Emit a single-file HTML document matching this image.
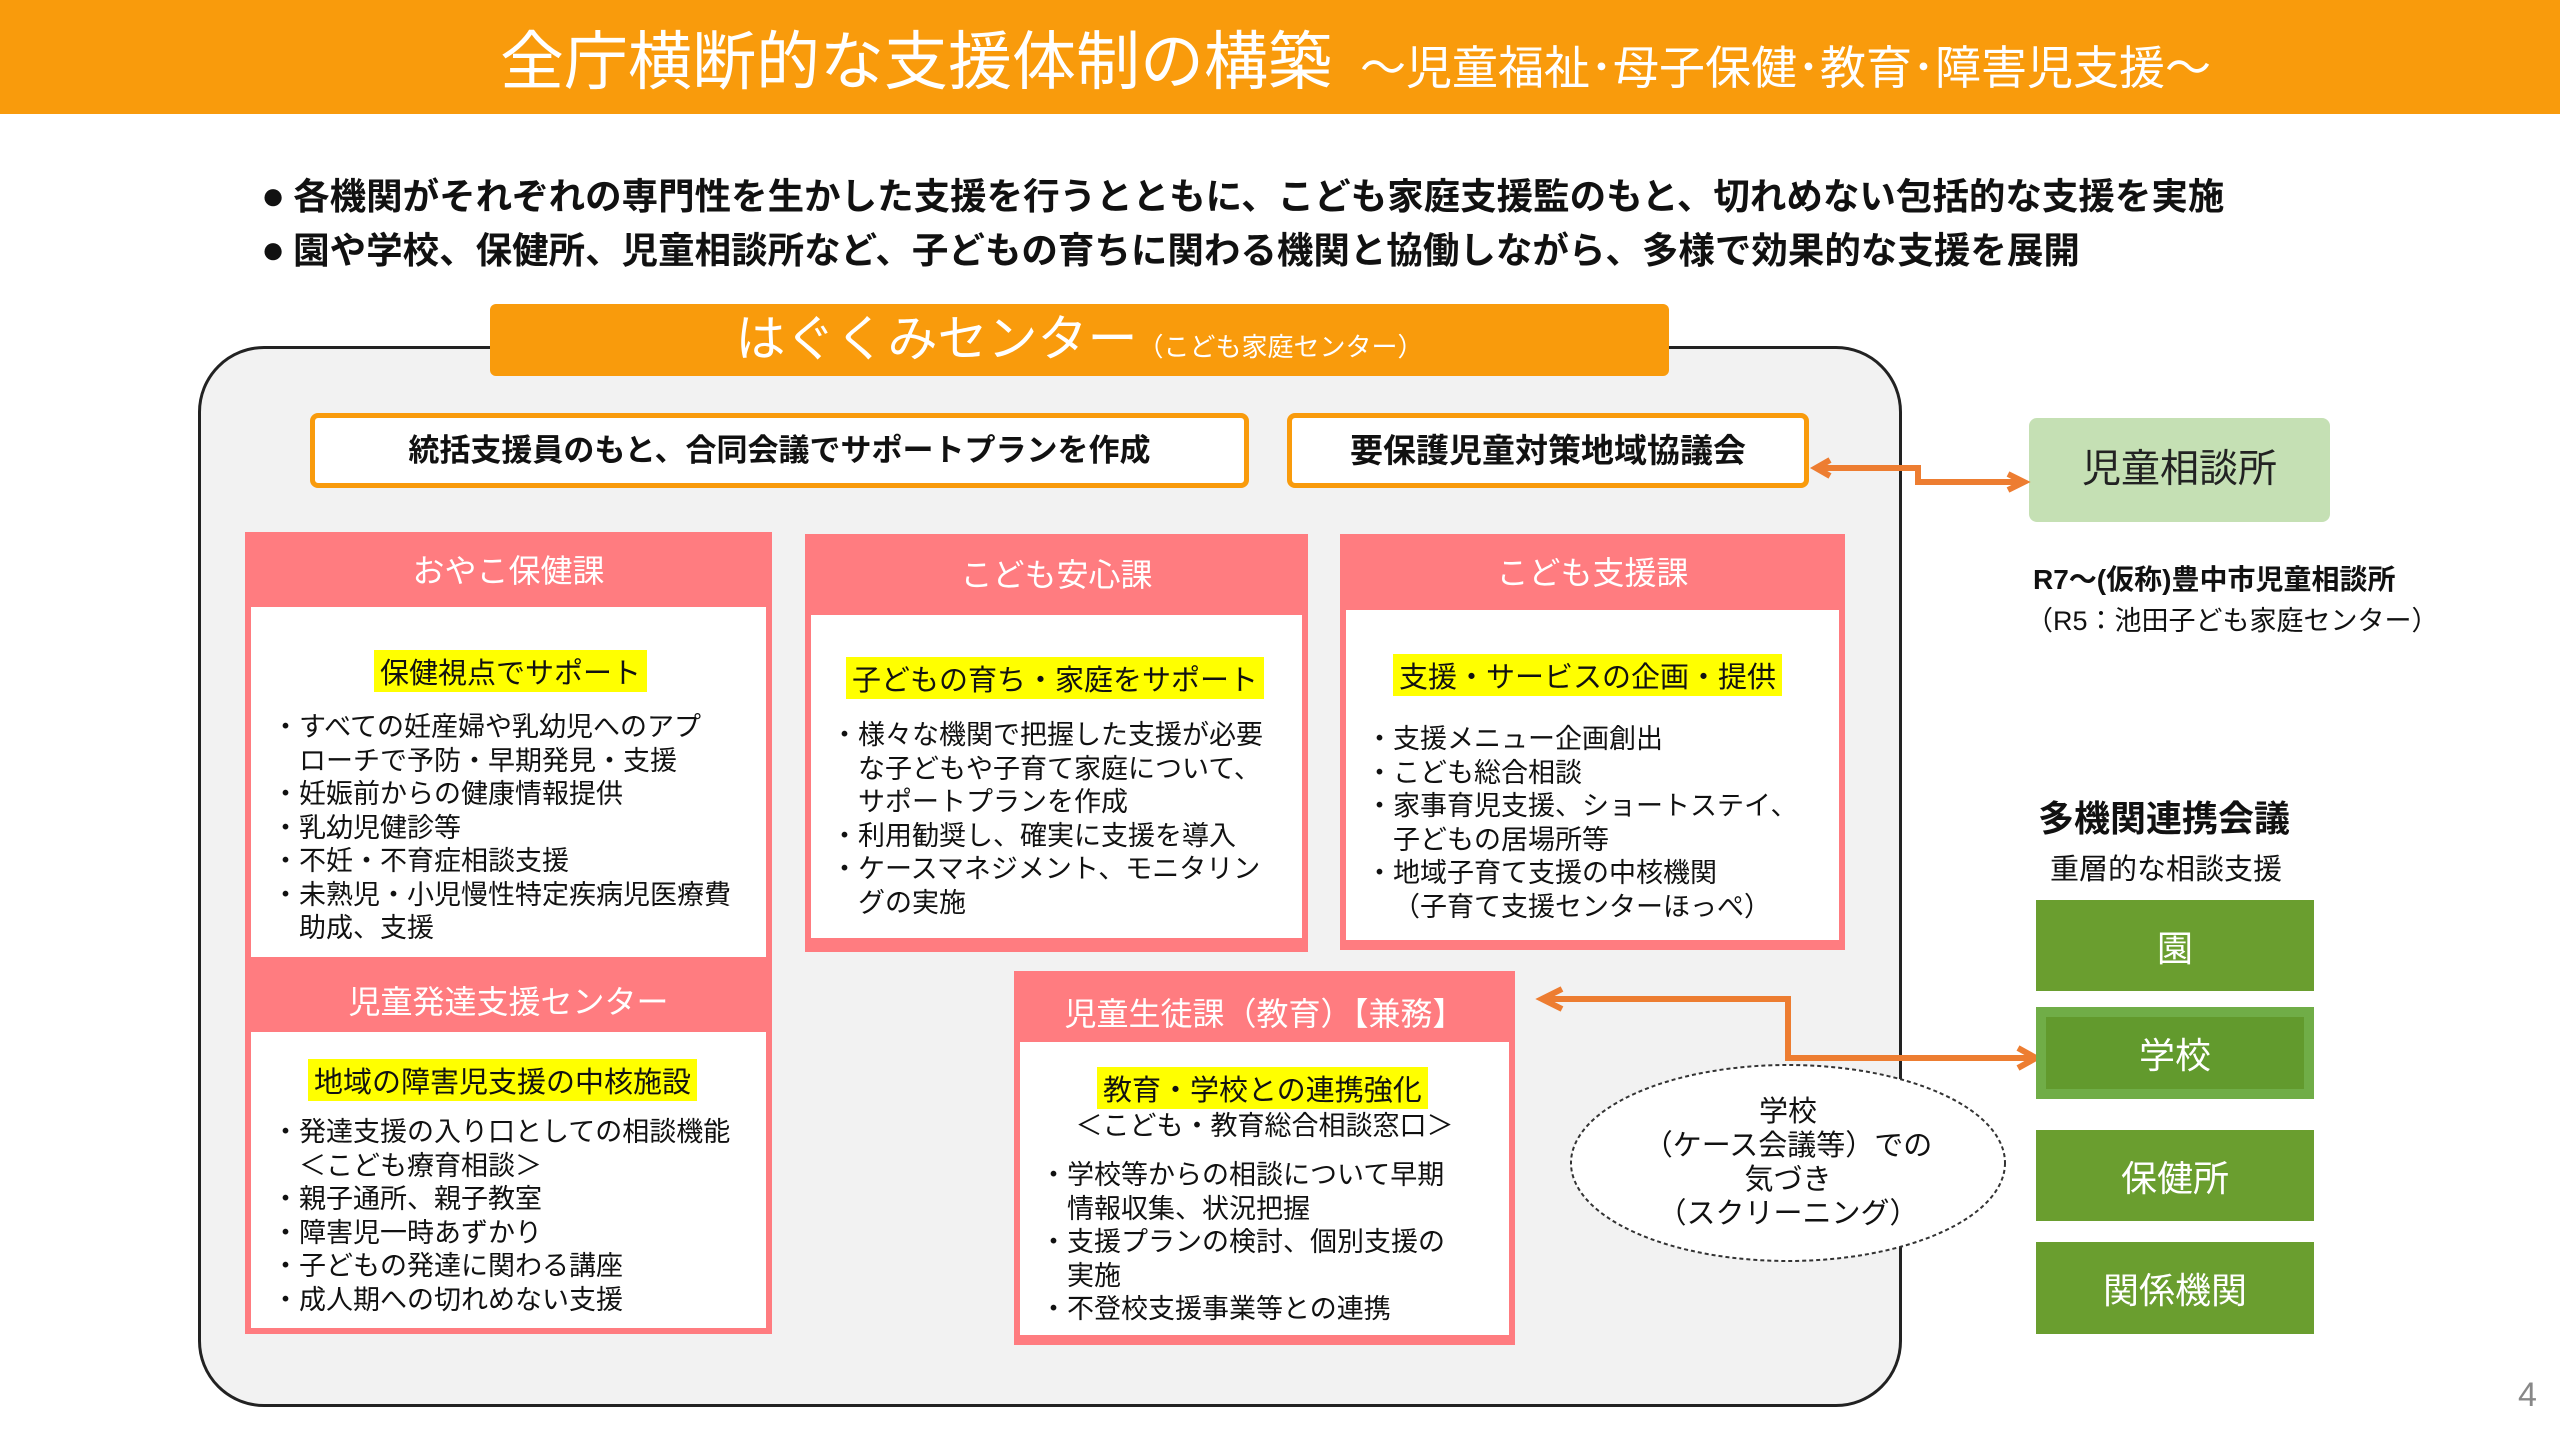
<!DOCTYPE html>
<html><head><meta charset="utf-8"><style>
*{margin:0;padding:0;box-sizing:border-box}
body{width:2560px;height:1440px;position:relative;background:#fff;font-family:"Liberation Sans","Noto Sans CJK JP",sans-serif;overflow:hidden;color:#111}
.a{position:absolute;white-space:nowrap}
.hdr{left:0;top:0;width:2560px;height:114px;background:#f99b0c}
.sec{position:absolute;background:#ff7c80}
.sec .h{position:absolute;left:0;right:0;text-align:center;color:#fff;font-size:32px}
.sec .w{position:absolute;background:#fff}
.hl{background:#ffff00;font-size:29px;padding:0 6px}
.ls{position:absolute;font-size:27px;line-height:33.5px;white-space:nowrap}
.ls div{padding-left:1em;text-indent:-1em}
.g{position:absolute;left:2036px;width:278px;background:#6a9e2f;color:#fff;font-size:36px;display:flex;align-items:center;justify-content:center}
.bl{position:absolute;left:261px;font-size:36.5px;font-weight:bold;line-height:48px;white-space:nowrap}
.bl span{font-size:40px;margin-right:8px}
</style></head><body>
<div class="a hdr"></div>
<div class="a" style="left:500px;top:22px;color:#fff;font-size:64px;line-height:80px">全庁横断的な支援体制の構築<span style="font-size:46px;margin-left:28px">～児童福祉･母子保健･教育･障害児支援～</span></div>
<div class="bl" style="top:172px"><span>●</span>各機関がそれぞれの専門性を生かした支援を行うとともに、こども家庭支援監のもと、切れめない包括的な支援を実施</div>
<div class="bl" style="top:226px"><span>●</span>園や学校、保健所、児童相談所など、子どもの育ちに関わる機関と協働しながら、多様で効果的な支援を展開</div>

<div class="a" style="left:198px;top:346px;width:1704px;height:1061px;background:#f2f2f2;border:3px solid #222;border-radius:66px"></div>
<div class="a" style="left:490px;top:304px;width:1179px;height:72px;background:#f99b0c;border-radius:6px;color:#fff;text-align:center;font-size:50px;line-height:70px">はぐくみセンター<span style="font-size:26px">（こども家庭センター）</span></div>

<div class="a" style="left:310px;top:413px;width:939px;height:75px;background:#fff;border:5px solid #f99b0c;border-radius:8px;font-size:31px;font-weight:bold;text-align:center;line-height:66px">統括支援員のもと、合同会議でサポートプランを作成</div>
<div class="a" style="left:1287px;top:413px;width:522px;height:75px;background:#fff;border:5px solid #f99b0c;border-radius:8px;font-size:33px;font-weight:bold;text-align:center;line-height:66px">要保護児童対策地域協議会</div>

<div class="a" style="left:2029px;top:418px;width:301px;height:104px;background:#c5e0b4;border-radius:8px;font-size:39px;text-align:center;line-height:104px;color:#222">児童相談所</div>
<div class="a" style="left:2033px;top:558px;font-size:28px;font-weight:bold">R7～(仮称)豊中市児童相談所</div>
<div class="a" style="left:2026px;top:599px;font-size:27px">（R5：池田子ども家庭センター）</div>

<svg class="a" style="left:0;top:0" width="2560" height="1440">
<g fill="none" stroke="#ed7d31" stroke-width="6">
<polyline points="1820,468 1918,468 1918,482 2018,482"/>
<polyline points="1830,460 1816,468 1830,476"/>
<polyline points="2008,474 2024,482 2008,490"/>
<polyline points="2030,1058 1788,1058 1788,999 1545,999"/>
<polyline points="1562,989 1542,999 1562,1009"/>
<polyline points="2018,1048 2036,1058 2018,1068"/>
</g>
<ellipse cx="1788" cy="1163" rx="217" ry="98" fill="#fff" stroke="#333" stroke-width="2" stroke-dasharray="4,3"/>
</svg>
<div class="a" style="left:1588px;top:1095px;width:400px;text-align:center;font-size:29px;line-height:34px">学校<br>（ケース会議等）での<br>気づき<br>（スクリーニング）</div>

<div class="sec" style="left:245px;top:532px;width:527px;height:431px">
<div class="h" style="top:14px">おやこ保健課</div>
<div class="w" style="left:6px;top:75px;right:6px;bottom:6px"></div></div>
<div class="a hl" style="left:374px;top:650px">保健視点でサポート</div>
<div class="ls" style="left:272px;top:711px"><div>・すべての妊産婦や乳幼児へのアプ<br>ローチで予防・早期発見・支援</div><div>・妊娠前からの健康情報提供</div><div>・乳幼児健診等</div><div>・不妊・不育症相談支援</div><div>・未熟児・小児慢性特定疾病児医療費<br>助成、支援</div></div>

<div class="sec" style="left:245px;top:963px;width:527px;height:371px">
<div class="h" style="top:14px">児童発達支援センター</div>
<div class="w" style="left:6px;top:69px;right:6px;bottom:6px"></div></div>
<div class="a hl" style="left:308px;top:1059px">地域の障害児支援の中核施設</div>
<div class="ls" style="left:272px;top:1116px"><div>・発達支援の入り口としての相談機能<br>＜こども療育相談＞</div><div>・親子通所、親子教室</div><div>・障害児一時あずかり</div><div>・子どもの発達に関わる講座</div><div>・成人期への切れめない支援</div></div>

<div class="sec" style="left:805px;top:534px;width:503px;height:418px">
<div class="h" style="top:16px">こども安心課</div>
<div class="w" style="left:6px;top:81px;right:6px;bottom:14px"></div></div>
<div class="a hl" style="left:846px;top:657px">子どもの育ち・家庭をサポート</div>
<div class="ls" style="left:831px;top:719px"><div>・様々な機関で把握した支援が必要<br>な子どもや子育て家庭について、<br>サポートプランを作成</div><div>・利用勧奨し、確実に支援を導入</div><div>・ケースマネジメント、モニタリン<br>グの実施</div></div>

<div class="sec" style="left:1340px;top:534px;width:505px;height:416px">
<div class="h" style="top:14px">こども支援課</div>
<div class="w" style="left:6px;top:76px;right:6px;bottom:10px"></div></div>
<div class="a hl" style="left:1393px;top:654px">支援・サービスの企画・提供</div>
<div class="ls" style="left:1366px;top:723px"><div>・支援メニュー企画創出</div><div>・こども総合相談</div><div>・家事育児支援、ショートステイ、<br>子どもの居場所等</div><div>・地域子育て支援の中核機関<br>（子育て支援センターほっぺ）</div></div>

<div class="sec" style="left:1014px;top:971px;width:501px;height:374px">
<div class="h" style="top:18px">児童生徒課（教育）【兼務】</div>
<div class="w" style="left:6px;top:71px;right:6px;bottom:10px"></div></div>
<div class="a hl" style="left:1097px;top:1067px">教育・学校との連携強化</div>
<div class="a" style="left:1014px;width:501px;text-align:center;top:1104px;font-size:27px">＜こども・教育総合相談窓口＞</div>
<div class="ls" style="left:1040px;top:1159px"><div>・学校等からの相談について早期<br>情報収集、状況把握</div><div>・支援プランの検討、個別支援の<br>実施</div><div>・不登校支援事業等との連携</div></div>

<div class="a" style="left:2038px;top:790px;font-size:36px;font-weight:bold">多機関連携会議</div>
<div class="a" style="left:2050px;top:846px;font-size:29px">重層的な相談支援</div>
<div class="g" style="top:900px;height:91px">園</div>
<div class="g" style="top:1007px;height:92px;background:#70ad47"><div style="position:absolute;left:10px;right:10px;top:10px;bottom:10px;background:#629a2d"></div><span style="position:relative">学校</span></div>
<div class="g" style="top:1130px;height:91px">保健所</div>
<div class="g" style="top:1242px;height:92px">関係機関</div>
<div class="a" style="left:2518px;top:1376px;font-size:34px;color:#888">4</div>
</body></html>
